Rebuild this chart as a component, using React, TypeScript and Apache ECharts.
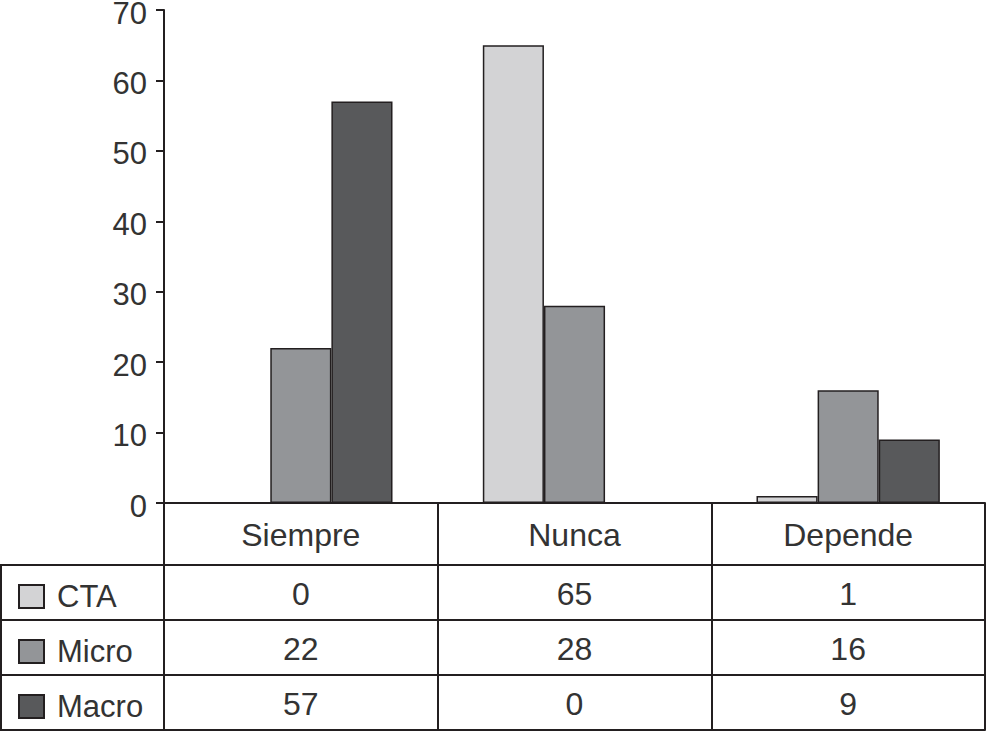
import React, { useEffect, useRef } from "react";
import * as echarts from "echarts";

const categories = ["Siempre", "Nunca", "Depende"];
const seriesNames = ["CTA", "Micro", "Macro"];
const ctaValues = [0, 65, 1];
const microValues = [22, 28, 16];
const macroValues = [57, 0, 9];
const yTicks = { min: 0, max: 70, interval: 10 };

const colors = ["#d3d3d5", "#939598", "#58595b"];
const lineColor = "#231f20";
const textColor = "#333333";
const font = "'Liberation Sans', Arial, Helvetica, sans-serif";
const fsTable = 32;
const fsAxis = 31;

export default function App() {
  const ref = useRef<HTMLDivElement>(null);
  useEffect(() => {
    document.body.style.margin = "0";
    const chart = echarts.init(ref.current!, null, { renderer: "svg" });
    const values = [ctaValues, microValues, macroValues];
    const rowOffsets = [62, 117, 172];
    const legendTops = [581, 636, 691];
    const rowAxes = values.map((vals, i) => ({
      type: "category" as const,
      data: categories,
      position: "bottom" as const,
      offset: rowOffsets[i],
      axisLine: { show: true, lineStyle: { color: lineColor, width: 2 } },
      axisTick: { show: false },
      axisLabel: {
        show: true,
        interval: 0,
        margin: 13,
        fontSize: fsTable,
        lineHeight: fsTable,
        color: textColor,
        fontFamily: font,
        formatter: (_v: string, idx: number) => String(vals[idx]),
      },
    }));
    chart.setOption({
      animation: false,
      backgroundColor: "#ffffff",
      textStyle: { fontFamily: font },
      grid: {
        left: 164,
        right: 3,
        top: 10,
        bottom: 229,
        containLabel: false,
        outerBoundsMode: "none",
      },
      legend: seriesNames.map((name, i) => ({
        orient: "vertical",
        left: 18,
        top: legendTops[i],
        itemWidth: 25,
        itemHeight: 23,
        padding: 0,
        icon: "rect",
        selectedMode: false,
        data: [name],
        textStyle: {
          fontSize: fsAxis,
          lineHeight: 31,
          color: textColor,
          fontFamily: font,
          padding: [0, 0, 0, 8],
        },
      })),
      xAxis: [
        {
          type: "category",
          data: categories,
          position: "bottom",
          offset: 0,
          axisLine: { show: true, lineStyle: { color: lineColor, width: 2 } },
          axisTick: {
            show: true,
            interval: 0,
            length: 227,
            lineStyle: { color: lineColor, width: 2 },
          },
          axisLabel: {
            show: true,
            interval: 0,
            margin: 16,
            fontSize: fsTable,
            lineHeight: fsTable,
            color: textColor,
            fontFamily: font,
          },
        },
        ...rowAxes,
        {
          type: "category",
          data: categories,
          position: "bottom",
          offset: 227,
          axisLine: { show: true, lineStyle: { color: lineColor, width: 2 } },
          axisTick: { show: false },
          axisLabel: { show: false },
        },
      ],
      yAxis: {
        type: "value",
        min: yTicks.min,
        max: yTicks.max,
        interval: yTicks.interval,
        axisLine: { show: true, lineStyle: { color: lineColor, width: 2 } },
        axisTick: { show: true, length: 8, lineStyle: { color: lineColor, width: 2 } },
        splitLine: { show: false },
        axisLabel: {
          margin: 17,
          fontSize: fsAxis,
          lineHeight: 6,
          verticalAlign: "top",
          color: textColor,
          fontFamily: font,
        },
      },
      graphic: [
        {
          type: "rect",
          shape: { x: 1, y: 565, width: 163, height: 165 },
          style: { fill: "none", stroke: lineColor, lineWidth: 2 },
          silent: true,
        },
        {
          type: "line",
          shape: { x1: 0, y1: 620, x2: 164, y2: 620 },
          style: { stroke: lineColor, lineWidth: 2 },
          silent: true,
        },
        {
          type: "line",
          shape: { x1: 0, y1: 675, x2: 164, y2: 675 },
          style: { stroke: lineColor, lineWidth: 2 },
          silent: true,
        },
      ],
      series: values.map((vals, i) => ({
        name: seriesNames[i],
        type: "bar",
        xAxisIndex: 0,
        data: vals,
        barGap: "0%",
        barCategoryGap: "33%",
        itemStyle: { color: colors[i], borderColor: lineColor, borderWidth: 1.5 },
      })),
    });
    return () => chart.dispose();
  }, []);
  return <div ref={ref} style={{ width: 988, height: 732 }} />;
}
